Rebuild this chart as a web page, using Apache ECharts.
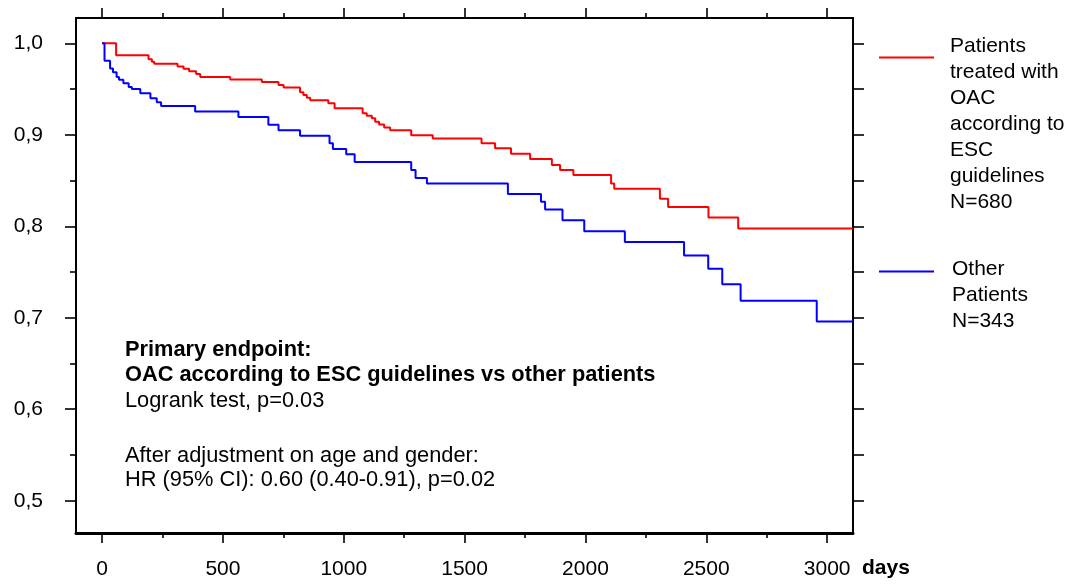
<!DOCTYPE html>
<html>
<head>
<meta charset="utf-8">
<script src="https://cdn.jsdelivr.net/npm/echarts@6/dist/echarts.min.js"></script>
<style>
html,body{margin:0;padding:0;background:#fff;}
#chart{width:1074px;height:585px;}
</style>
</head>
<body>
<div id="chart"></div>
<script>
// ---- data ----
const redDays = [0, 58, 192, 206, 216, 312, 337, 360, 389, 406, 530, 661, 730, 751, 819, 833, 847, 861, 936, 962, 1078, 1095, 1116, 1130, 1146, 1167, 1192, 1279, 1368, 1570, 1626, 1692, 1771, 1861, 1895, 1950, 2106, 2119, 2308, 2342, 2509, 2632, 3107];
const redSurv = [1.0, 0.987, 0.9825, 0.980, 0.9776, 0.9746, 0.9721, 0.9694, 0.9664, 0.9631, 0.9606, 0.9577, 0.9544, 0.9517, 0.9464, 0.9435, 0.9404, 0.9377, 0.9344, 0.929, 0.9235, 0.9209, 0.918, 0.9144, 0.9114, 0.9081, 0.9049, 0.8994, 0.8961, 0.8907, 0.8852, 0.8792, 0.8735, 0.8671, 0.8615, 0.856, 0.8469, 0.8411, 0.83, 0.8212, 0.8097, 0.7977, 0.7977];
const blueDays = [0, 10, 33, 45, 60, 70, 88, 110, 123, 158, 200, 226, 244, 385, 564, 688, 730, 819, 941, 955, 1010, 1045, 1279, 1297, 1344, 1679, 1816, 1833, 1905, 1995, 2163, 2408, 2508, 2566, 2642, 2957, 3107];
const blueSurv = [1.0, 0.9811, 0.9724, 0.9683, 0.9631, 0.9603, 0.9563, 0.9522, 0.95, 0.9453, 0.9399, 0.9355, 0.9314, 0.9254, 0.9196, 0.9109, 0.9049, 0.8991, 0.8907, 0.8846, 0.8788, 0.8704, 0.8615, 0.8527, 0.8469, 0.8354, 0.8269, 0.8183, 0.8065, 0.7945, 0.7827, 0.7682, 0.7535, 0.7366, 0.7186, 0.696, 0.696];
const xMajorTicks = [0, 500, 1000, 1500, 2000, 2500, 3000];
const xMinorTicks = [250, 750, 1250, 1750, 2250, 2750];
const yMajorTicks = [0.5, 0.6, 0.7, 0.8, 0.9, 1.0];
const yMinorTicks = [0.55, 0.65, 0.75, 0.85, 0.95];
const yAllTicks = [0.5, 0.55, 0.6, 0.65, 0.7, 0.75, 0.8, 0.85, 0.9, 0.95, 1.0];
const redName = 'Patients\ntreated with\nOAC\naccording to\nESC\nguidelines\nN=680';
const blueName = 'Other\nPatients\nN=343';
const xAxisName = 'days';
const noteLines = [
  {text: 'Primary endpoint:', bold: true},
  {text: 'OAC according to ESC guidelines vs other patients', bold: true},
  {text: 'Logrank test, p=0.03', bold: false},
  {text: 'After adjustment on age and gender:', bold: false},
  {text: 'HR (95% CI): 0.60 (0.40-0.91), p=0.02', bold: false}
];

// ---- chart ----
const FONT = '"Liberation Sans", Arial, sans-serif';
const X_MIN = -108, X_MAX = 3107, Y_MIN = 0.4647, Y_MAX = 1.0277;
const chart = echarts.init(document.getElementById('chart'), null, {renderer: 'canvas'});

function xAx(pos, ticks, len, showLine, lineW, opts) {
  return Object.assign({
    type: 'value', position: pos, min: X_MIN, max: X_MAX,
    axisLine: {show: showLine, onZero: false, lineStyle: {color: '#000', width: lineW}},
    axisTick: {show: true, customValues: ticks, length: len, inside: false, lineStyle: {color: '#000', width: 1.6}},
    axisLabel: {show: false},
    splitLine: {show: false}
  }, opts || {});
}
function yAx(pos, ticks, len, showLine, opts) {
  return Object.assign({
    type: 'value', position: pos, min: Y_MIN, max: Y_MAX,
    axisLine: {show: showLine, onZero: false, lineStyle: {color: '#000', width: 2}},
    axisTick: {show: true, customValues: ticks, length: len, inside: false, lineStyle: {color: '#000', width: 1.6}},
    axisLabel: {show: false},
    splitLine: {show: false}
  }, opts || {});
}

const graphics = [];
// legend
graphics.push({type: 'line', shape: {x1: 879, y1: 57.5, x2: 934, y2: 57.5}, style: {stroke: '#ff0000', lineWidth: 2}});
graphics.push({type: 'text', x: 950, y: 33, style: {text: redName, font: '21px ' + FONT, fill: '#000', lineHeight: 26, verticalAlign: 'top', align: 'left'}});
graphics.push({type: 'line', shape: {x1: 879, y1: 271.5, x2: 934, y2: 271.5}, style: {stroke: '#0000ff', lineWidth: 2}});
graphics.push({type: 'text', x: 952, y: 256, style: {text: blueName, font: '21px ' + FONT, fill: '#000', lineHeight: 26, verticalAlign: 'top', align: 'left'}});
// annotation
const noteY = [350, 375, 401, 456, 480];
noteLines.forEach((l, i) => {
  graphics.push({type: 'text', x: 125, y: noteY[i], style: {text: l.text, font: (l.bold ? 'bold ' : '') + '21.8px ' + FONT, fill: '#000', verticalAlign: 'middle', align: 'left'}});
});

const option = {
  animation: false,
  backgroundColor: '#fff',
  grid: {left: 76, right: 221, top: 18, bottom: 52, containLabel: false},
  xAxis: [
    xAx('bottom', xMajorTicks, 10, true, 3, {
      axisLabel: {show: true, customValues: xMajorTicks, margin: 26, color: '#000', fontSize: 21, fontFamily: FONT,
        formatter: v => String(Math.round(v))},
      name: xAxisName, nameLocation: 'end', nameGap: 9,
      nameTextStyle: {color: '#000', fontSize: 21, fontWeight: 'bold', fontFamily: FONT, verticalAlign: 'top', padding: [25, 0, 0, 0]}
    }),
    xAx('bottom', xMinorTicks, 5, false, 3),
    xAx('top', xMajorTicks, 10, true, 2),
    xAx('top', xMinorTicks, 5, false, 2)
  ],
  yAxis: [
    yAx('left', yMajorTicks, 11, true, {
      axisLabel: {show: true, customValues: yMajorTicks, margin: 33, color: '#000', fontSize: 21, fontFamily: FONT,
        formatter: v => v.toFixed(1).replace('.', ',')}
    }),
    yAx('left', yMinorTicks, 6, false),
    yAx('right', yAllTicks, 11, true)
  ],
  series: [
    {type: 'line', name: 'OAC', step: 'end', showSymbol: false, xAxisIndex: 0, yAxisIndex: 0,
      lineStyle: {color: '#ff0000', width: 2}, itemStyle: {color: '#ff0000'},
      data: redDays.map((d, i) => [d, redSurv[i]])},
    {type: 'line', name: 'Other', step: 'end', showSymbol: false, xAxisIndex: 0, yAxisIndex: 0,
      lineStyle: {color: '#0000ff', width: 2}, itemStyle: {color: '#0000ff'},
      data: blueDays.map((d, i) => [d, blueSurv[i]])}
  ],
  graphic: graphics
};
chart.setOption(option);
</script>
</body>
</html>
